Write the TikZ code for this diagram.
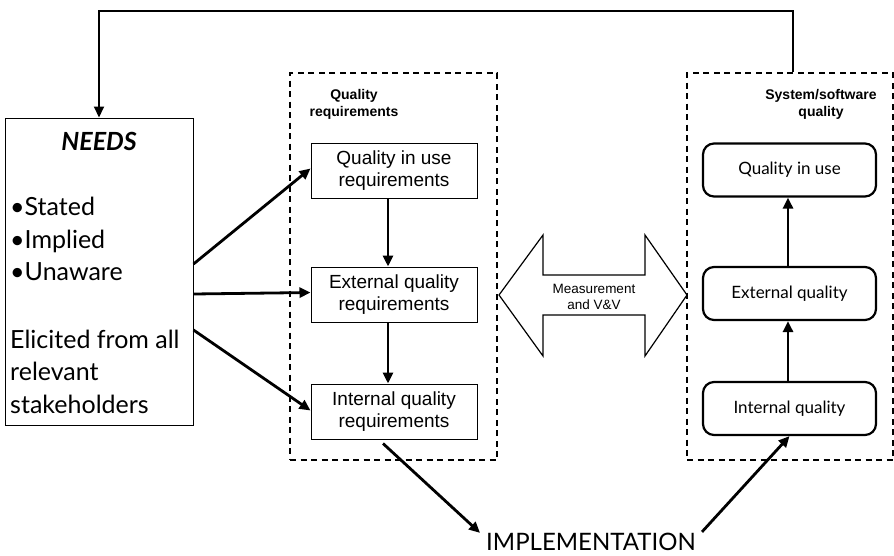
\documentclass[tikz,border=0pt]{standalone}
\usepackage{fontspec}
\usetikzlibrary{arrows.meta}
\newfontfamily\gillfont{Lato}
\newfontfamily\arialfont{Liberation Sans}
\begin{document}
\begin{tikzpicture}[x=1pt,y=-1pt,
  arr/.style={line width=2.8pt,-{Triangle[length=11pt,width=10pt]}},
  reqbox/.style={draw,line width=1pt,minimum width=166pt,minimum height=55pt,align=center,
    font=\arialfont\fontsize{19}{22}\selectfont},
  qbox/.style={draw,line width=2.2pt,rounded corners=11pt,minimum width=173pt,minimum height=53pt,
    font=\gillfont\fontsize{17}{20}\selectfont},
  group/.style={draw,line width=2.6pt,dash pattern=on 6pt off 4.5pt},
  grouplabel/.style={align=center,font=\arialfont\bfseries\fontsize{14}{17}\selectfont},
  needtext/.style={anchor=base west,inner sep=0pt,font=\gillfont\fontsize{25}{30}\selectfont},
]
\useasboundingbox (0,0) rectangle (894,555);

% dashed groups
\node[group,minimum width=207pt,minimum height=387pt] (qr) at (393.5,266.5) {};
\node[group,minimum width=206pt,minimum height=387pt] (ss) at (790,266.5) {};
\node[grouplabel] (qrl) at (354,104) {Quality\\requirements};
\node[grouplabel] (ssl) at (821,104) {System/software\\quality};

% needs box
\node[draw,line width=1pt,minimum width=188pt,minimum height=307pt] (needs) at (99,271.5) {};
\node[font=\gillfont\bfseries\itshape\fontsize{25}{30}\selectfont] (needst) at (99,141) {NEEDS};
\node[needtext] (n1) at (10,215) {•Stated};
\node[needtext] (n2) at (10,248) {•Implied};
\node[needtext] (n3) at (10,280) {•Unaware};
\node[needtext] (n4) at (10,348) {Elicited from all};
\node[needtext] (n5) at (10,380) {relevant};
\node[needtext] (n6) at (10,413) {stakeholders};

% quality requirements
\node[reqbox] (qiu) at (394,170.5) {Quality in use\\requirements};
\node[reqbox] (ext) at (394,294.5) {External quality\\requirements};
\node[reqbox] (int) at (394,411.5) {Internal quality\\requirements};

% system/software quality
\node[qbox] (uq) at (789.5,170) {Quality in use};
\node[qbox] (eq) at (789.5,293.5) {External quality};
\node[qbox] (iq) at (789.5,408.5) {Internal quality};

% measurement double arrow
\draw[line width=1.2pt,line join=miter] (499,295) -- (543,235) -- (543,275) -- (645,275) -- (645,235)
  -- (687,295) -- (645,356) -- (645,315) -- (543,315) -- (543,356) -- cycle;
\node[align=center,font=\arialfont\fontsize{13.5}{15.5}\selectfont] (mvv) at (594,297) {Measurement\\and V\&V};

% implementation
\node[font=\gillfont\fontsize{24}{28}\selectfont,inner sep=0pt,anchor=base] (impl) at (591,550.5) {IMPLEMENTATION};

% connectors
\draw[arr] ([yshift=7.5pt]needs.east) -- ([yshift=2pt]qiu.west);
\draw[arr] ([yshift=-22.5pt]needs.east) -- ([yshift=2pt]ext.west);
\draw[arr] ([yshift=-58.5pt]needs.east) -- ([yshift=1pt]int.west);
\draw[arr] ([xshift=-6pt]qiu.south) -- ([xshift=-6pt]ext.north);
\draw[arr] ([xshift=-6pt]ext.south) -- ([xshift=-6pt]int.north);
\draw[arr] ([xshift=-11pt,yshift=-4pt]int.south) -- ([xshift=-6pt,yshift=9pt]impl.west);
\draw[arr] ([xshift=6pt,yshift=10pt]impl.east) -- (iq.south);
\draw[arr] ([xshift=-1.5pt]iq.north) -- ([xshift=-1.5pt]eq.south);
\draw[arr] ([xshift=-1.5pt]eq.north) -- ([xshift=-1.5pt]uq.south);
\draw[line width=2pt,-{Triangle[length=11pt,width=10pt]}] ([xshift=3pt]ss.north) -- ++(0,-61) -| (needs.north);
\end{tikzpicture}
\end{document}
